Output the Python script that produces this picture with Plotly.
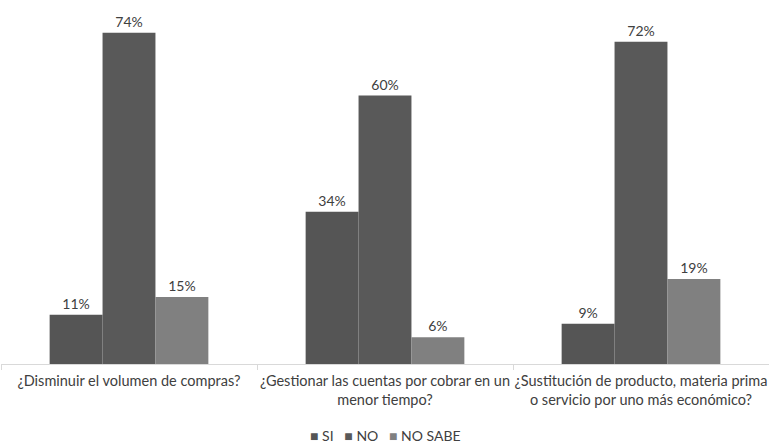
import plotly.graph_objects as go

categories = [
    "¿Disminuir el volumen de compras?",
    "¿Gestionar las cuentas por cobrar en un<br>menor tiempo?",
    "¿Sustitución de producto, materia prima<br>o servicio por uno más económico?",
]
series_names = ["SI", "NO", "NO SABE"]
si = [11, 34, 9]
no = [74, 60, 72]
no_sabe = [15, 6, 19]
colors = ["#555555", "#595959", "#808080"]

fig = go.Figure()
for name, vals, col in zip(series_names, [si, no, no_sabe], colors):
    fig.add_trace(go.Bar(
        x=categories, y=vals, name=name,
        marker=dict(color=col, line=dict(width=0)),
        text=[f"{v}%" for v in vals], textposition="outside",
        textfont=dict(size=14, color="#404040", family="Lato"),
        cliponaxis=False, showlegend=False,
    ))

plot_h = 443 - 6 - 79
legend_text = "   ".join(
    f'<span style="color:{c}">■</span> {n}' for n, c in zip(series_names, colors)
)
fig.add_annotation(
    text=legend_text, x=0.5, xref="paper", xanchor="center",
    y=-(435 - 364) / plot_h, yref="paper", yanchor="middle", showarrow=False,
    font=dict(size=14, color="#404040", family="Lato"),
)

fig.update_layout(
    width=769, height=443,
    margin=dict(l=1, r=0, t=6, b=79, autoexpand=False),
    paper_bgcolor="white", plot_bgcolor="white",
    barmode="group", bargap=0.38, bargroupgap=0,
    font=dict(family="Lato", size=14, color="#404040"),
    showlegend=False,
    xaxis=dict(showline=True, linecolor="#d9d9d9", linewidth=1, automargin=False,
               tickangle=0, ticklabelstandoff=4,
               ticks="outside", tickson="boundaries", ticklen=5, tickcolor="#d9d9d9",
               tickfont=dict(size=14.5, color="#404040")),
    yaxis=dict(range=[0, 80], visible=False, showgrid=False, automargin=False),
)
fig.write_html("out.html")
